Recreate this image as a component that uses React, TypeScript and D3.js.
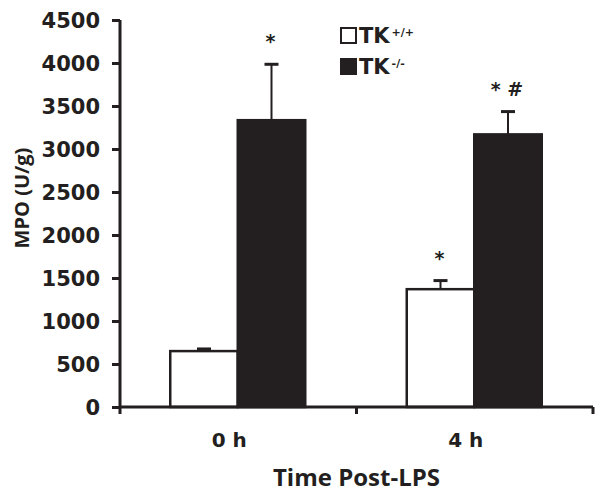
import React, { useRef, useEffect } from 'react';
import * as d3 from 'd3';

const groups = ['0 h', '4 h'];
const series = ['TK+/+', 'TK-/-'];
const valuesWT = [650, 1370];
const errorsWT = [25, 100];
const valuesKO = [3335, 3170];
const errorsKO = [650, 265];
const marksWT = ['', '*'];
const marksKO = ['*', '* #'];
const yTicks = [0, 500, 1000, 1500, 2000, 2500, 3000, 3500, 4000, 4500];

const ink = '#231f20';

const App = () => {
  const svgRef = useRef<SVGSVGElement>(null);
  const w = 604;
  const h = 496;

  useEffect(() => {
    const svg = d3.select(svgRef.current);
    svg.selectAll('*').remove();

    const left = 120;
    const right = 593;
    const top = 20;
    const bottom = 407;

    const y = d3.scaleLinear().domain([0, 4500]).range([bottom, top]);
    const x0 = d3.scaleBand().domain(groups).range([left, right]);
    const bw = x0.bandwidth();
    const x1 = d3.scaleBand().domain(series).range([bw / 2 - 68, bw / 2 + 67]);

    const rows = groups.flatMap((g, i) => [
      { g, s: series[0], v: valuesWT[i], e: errorsWT[i], m: marksWT[i] },
      { g, s: series[1], v: valuesKO[i], e: errorsKO[i], m: marksKO[i] }
    ]);

    // error bars (behind bars)
    const eb = svg.append('g');
    rows.forEach((d) => {
      const cx = x0(d.g)! + x1(d.s)! + x1.bandwidth() / 2;
      eb.append('line')
        .attr('x1', cx).attr('x2', cx)
        .attr('y1', y(d.v)).attr('y2', y(d.v + d.e))
        .attr('stroke', ink).attr('stroke-width', 2);
      eb.append('line')
        .attr('x1', cx - 7).attr('x2', cx + 7)
        .attr('y1', y(d.v + d.e)).attr('y2', y(d.v + d.e))
        .attr('stroke', ink).attr('stroke-width', 3);
      if (d.m) {
        svg.append('text')
          .attr('x', cx - 1)
          .attr('y', y(d.v + d.e) - 16)
          .attr('text-anchor', 'middle')
          .attr('font-family', 'DejaVu Sans')
          .attr('font-weight', 700)
          .attr('font-size', 19)
          .attr('fill', ink)
          .attr('xml:space', 'preserve')
          .text(d.m);
      }
    });

    svg.append('g')
      .selectAll('rect')
      .data(rows)
      .join('rect')
      .attr('x', (d) => x0(d.g)! + x1(d.s)!)
      .attr('y', (d) => y(d.v))
      .attr('width', x1.bandwidth())
      .attr('height', (d) => y(0) - y(d.v))
      .attr('fill', (d) => (d.s === series[0] ? '#ffffff' : ink))
      .attr('stroke', ink)
      .attr('stroke-width', 2.5);

    // y axis
    const yAxis = d3.axisLeft(y).tickValues(yTicks).tickSize(8).tickPadding(12).tickFormat(d3.format('d'));
    const gy = svg.append('g').attr('transform', `translate(${left},0)`).call(yAxis);
    gy.select('.domain').attr('d', `M0,${top}V${bottom + 7}`).attr('stroke', ink).attr('stroke-width', 3);
    gy.selectAll('.tick line').attr('stroke', ink).attr('stroke-width', 3);
    gy.selectAll('.tick text')
      .attr('fill', ink)
      .attr('font-family', 'DejaVu Sans')
      .attr('font-weight', 700)
      .attr('font-size', 21)
      .attr('dy', '0.36em');

    // x axis
    const gx = svg.append('g').attr('transform', `translate(0,${bottom})`);
    gx.append('line')
      .attr('x1', left).attr('x2', right).attr('y1', 0).attr('y2', 0)
      .attr('stroke', ink).attr('stroke-width', 3);
    gx.selectAll('.xt')
      .data(groups)
      .join('line')
      .attr('x1', (d) => x0(d)! + bw).attr('x2', (d) => x0(d)! + bw)
      .attr('y1', 0).attr('y2', 7)
      .attr('stroke', ink).attr('stroke-width', 3);
    gx.selectAll('.xl')
      .data(groups)
      .join('text')
      .attr('x', (d) => x0(d)! + bw / 2 - 9)
      .attr('y', 40)
      .attr('text-anchor', 'middle')
      .attr('font-family', 'DejaVu Sans')
      .attr('font-weight', 700)
      .attr('font-size', 20)
      .attr('fill', ink)
      .text((d) => d);

    svg.append('text')
      .attr('x', (left + right) / 2)
      .attr('y', 486)
      .attr('text-anchor', 'middle')
      .attr('font-family', 'Open Sans')
      .attr('font-weight', 700)
      .attr('font-size', 24)
      .attr('fill', ink)
      .text('Time Post-LPS');

    svg.append('text')
      .attr('transform', `translate(29,198) rotate(-90)`)
      .attr('text-anchor', 'middle')
      .attr('font-family', 'Open Sans')
      .attr('font-weight', 700)
      .attr('font-size', 20)
      .attr('fill', ink)
      .text('MPO (U/g)');

    // legend
    const lg = svg.append('g').attr('transform', 'translate(340,27)');
    series.forEach((s, i) => {
      const row = lg.append('g').attr('transform', `translate(0,${i * 31})`);
      row.append('rect')
        .attr('x', 1).attr('y', 1).attr('width', 15).attr('height', 15)
        .attr('fill', i === 0 ? '#ffffff' : ink)
        .attr('stroke', ink).attr('stroke-width', 2);
      const t = row.append('text')
        .attr('x', 19).attr('y', 16)
        .attr('font-family', 'DejaVu Sans')
        .attr('font-weight', 700)
        .attr('font-size', 21)
        .attr('fill', ink);
      t.append('tspan').text('TK');
      t.append('tspan')
        .attr('font-size', 11)
        .attr('dx', 2)
        .attr('dy', -7)
        .text(s.slice(2));
    });
  }, []);

  return (
    <svg
      ref={svgRef}
      width={w}
      height={h}
      style={{ position: 'absolute', left: 0, top: 0, background: '#fff' }}
    />
  );
};

export default App;
